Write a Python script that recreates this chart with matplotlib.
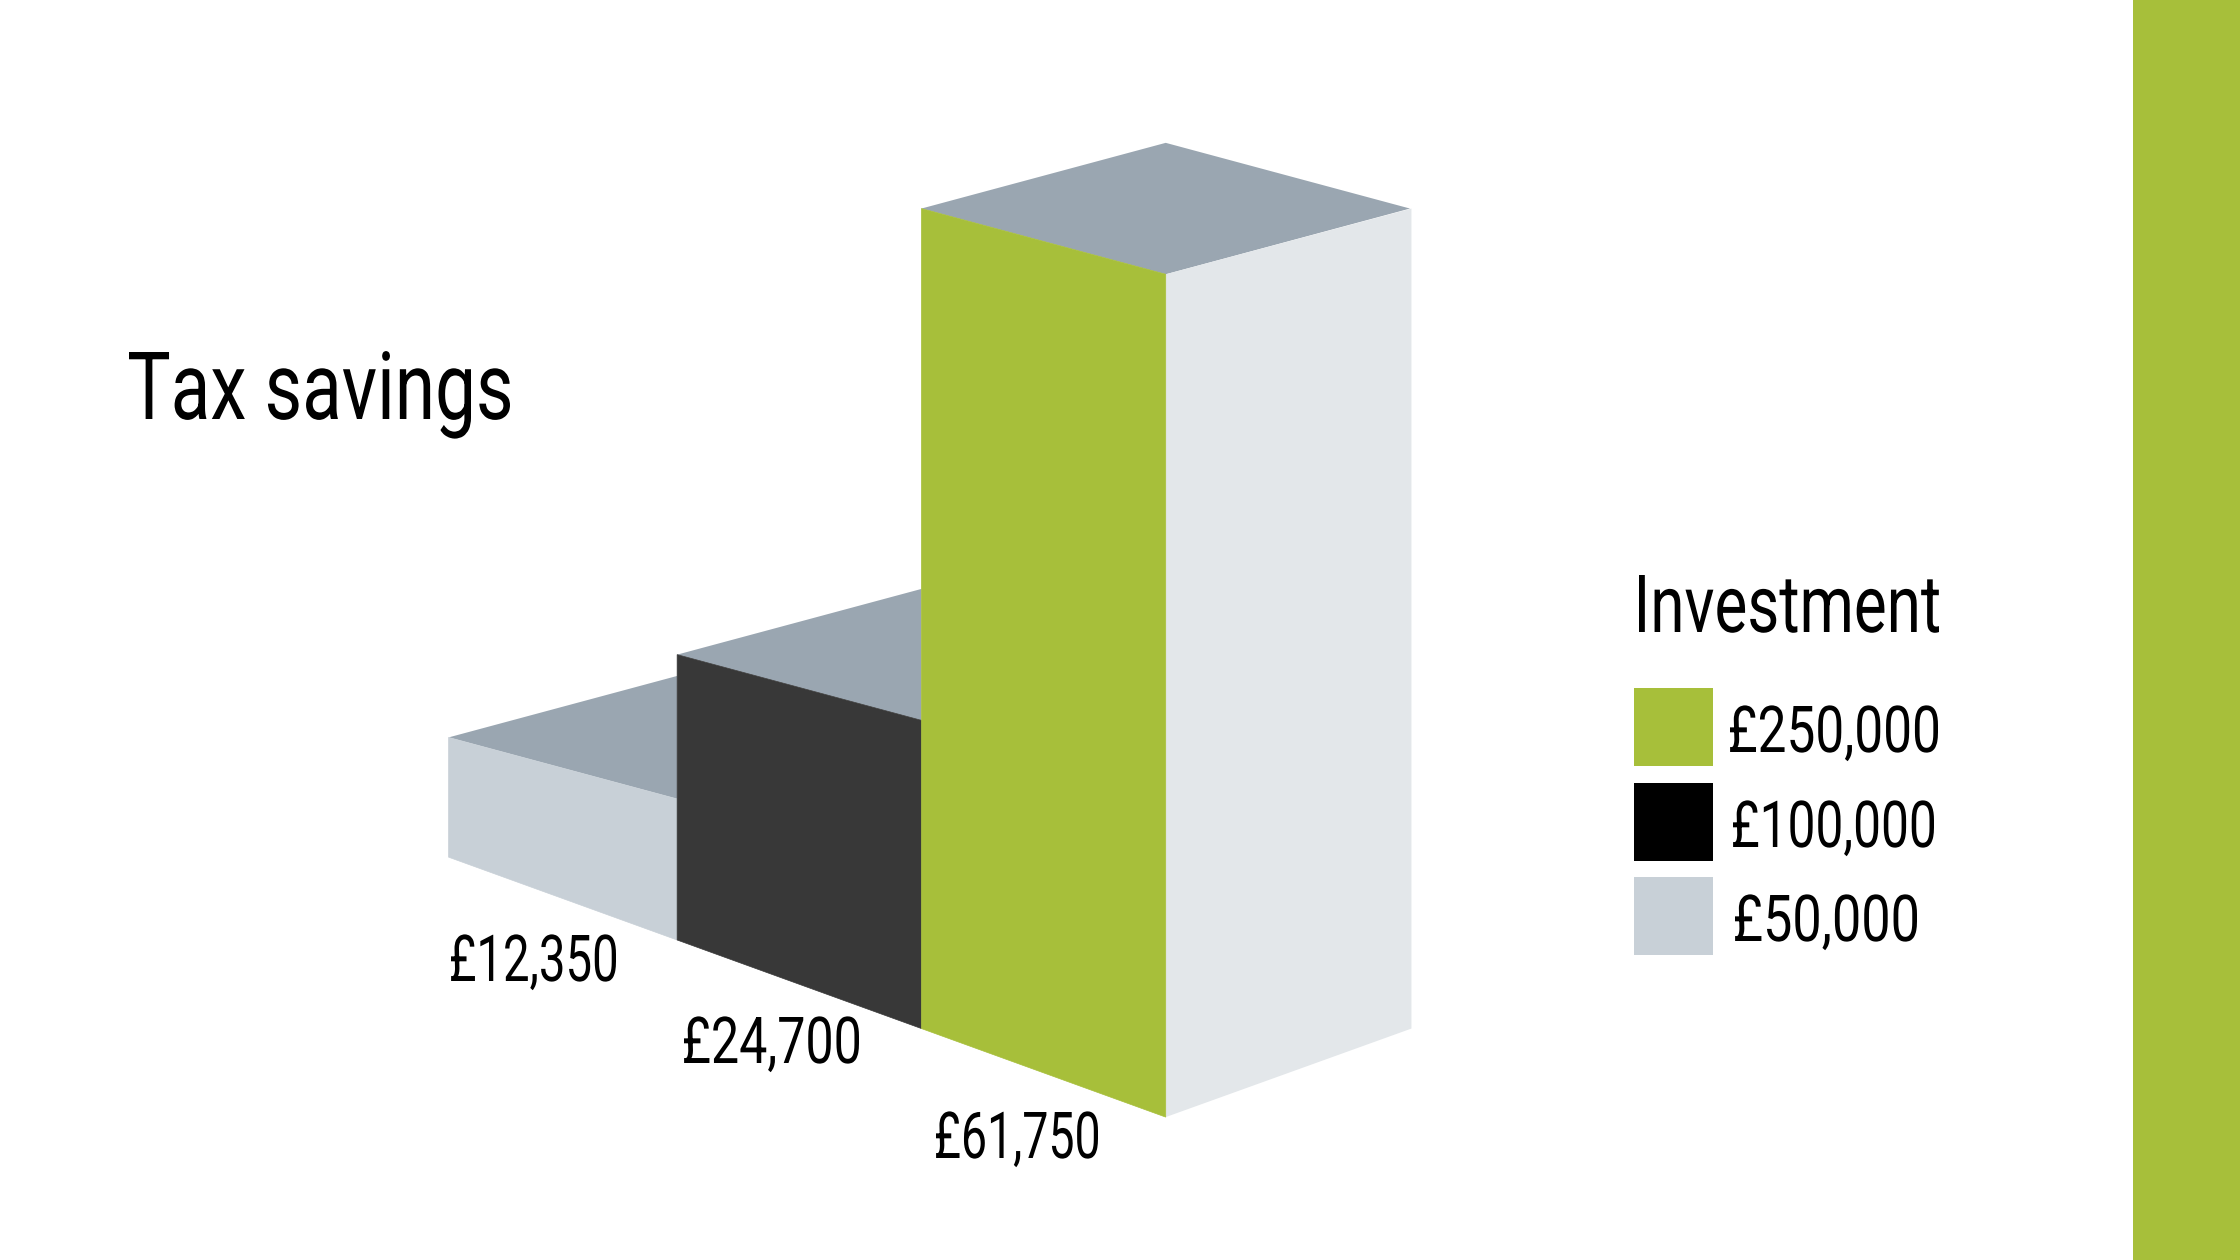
import matplotlib
matplotlib.use("Agg")
import matplotlib.pyplot as plt
from matplotlib.patches import Polygon, Rectangle
from matplotlib.patheffects import AbstractPathEffect
from matplotlib.font_manager import FontProperties
from matplotlib.textpath import TextPath
from matplotlib.transforms import Affine2D

plt.rcParams["font.family"] = ["Roboto", "DejaVu Sans"]

title = "Tax savings"
legend_title = "Investment"
investment = ["£250,000", "£100,000", "£50,000"]
savings = ["£12,350", "£24,700", "£61,750"]
# drawn height of each block's left edge, as a share of the tallest one
drawn_share = [0.146, 0.348, 1.0]

green = "#a7bf3a"
black = "#000000"
dark = "#383838"
light = "#c8d0d7"
pale = "#e3e7ea"
roof = "#9aa6b1"

W, H = 1568, 882
DPI = 100
fig = plt.figure(figsize=(22.4, 12.6), dpi=DPI)
ax = fig.add_axes([0, 0, 1, 1])
ax.set_xlim(0, W)
ax.set_ylim(H, 0)
ax.axis("off")

# block edges along the floor
edges = [314, 474, 645, 816]
floor_start = 600
floor_slope = 0.3625
roof_slope = 0.269
tallest = 574


def floor(x):
    return floor_start + (x - edges[0]) * floor_slope


def top(i, x):
    left_top = floor(edges[i]) - drawn_share[i] * tallest
    return left_top + (x - edges[i]) * roof_slope


faces = [light, dark, green]
for i in range(3):
    x0, x1 = edges[i], edges[i + 1]
    dx = x1 - x0
    back = top(i, x0) - dx * roof_slope
    far = (x1 + dx, top(i, x0)) if i == 2 else (x1, back)
    ax.add_patch(Polygon([(x0, top(i, x0)), (x1, top(i, x1)), far, (x1, back)],
                         fc=roof, ec="none", zorder=i + 1))
    # thin edge in the face colour hides the seam between touching faces
    ax.add_patch(Polygon([(x0, top(i, x0)), (x1, top(i, x1)), (x1, floor(x1)), (x0, floor(x0))],
                         fc=faces[i], ec=faces[i], lw=0.5, zorder=i + 2))

# right hand side of the tall block, under the green face
x0, x1 = edges[3], edges[3] + 172
ax.add_patch(Polygon([(x0, top(2, x0)), (x1, top(2, edges[2])), (x1, floor(edges[2])), (x0, floor(x0))],
                     fc=pale, ec="none", zorder=3.5))

ax.add_patch(Rectangle((1493, 0), W - 1493, H, fc=green, ec="none"))


class Squeeze(AbstractPathEffect):
    # none of the installed fonts is condensed, so narrow the glyphs when drawn
    def __init__(self, sx):
        super().__init__()
        self.sx = sx

    def draw_path(self, renderer, gc, tpath, affine, rgbFace=None):
        renderer.draw_path(gc, tpath, Affine2D().scale(self.sx, 1) + affine, rgbFace)


def fitted_text(s, left, right, baseline, cap):
    # left, right, baseline, cap are in pixels of the 2240 wide picture
    size = cap / 0.711 * 72 / DPI
    box = TextPath((0, 0), s, size=size, prop=FontProperties(family="Roboto")).get_extents()
    sx = (right - left) / (box.width * DPI / 72)
    start = left - box.x0 * DPI / 72 * sx
    ax.text(start * W / 2240, baseline * W / 2240, s, fontsize=size, ha="left", va="baseline",
            color="black", path_effects=[Squeeze(sx)], zorder=10)


fitted_text(title, 129, 510, 419, 67)
fitted_text(legend_title, 1639, 1939, 632, 57)

swatches = [green, black, light]
for name, col, yy, box in zip(investment, swatches, [481.6, 548, 613.9],
                              [(1730, 1938, 752), (1733, 1934, 847), (1735, 1917, 941)]):
    ax.add_patch(Rectangle((1144, yy), 54.8, 54.6, fc=col, ec="none"))
    fitted_text(name, box[0], box[1], box[2], 46)

for name, box in zip(savings, [(451, 616, 981), (684, 859, 1063), (936, 1098, 1158)]):
    fitted_text(name, box[0], box[1], box[2], 46)

fig.savefig("out.png", dpi=DPI)
